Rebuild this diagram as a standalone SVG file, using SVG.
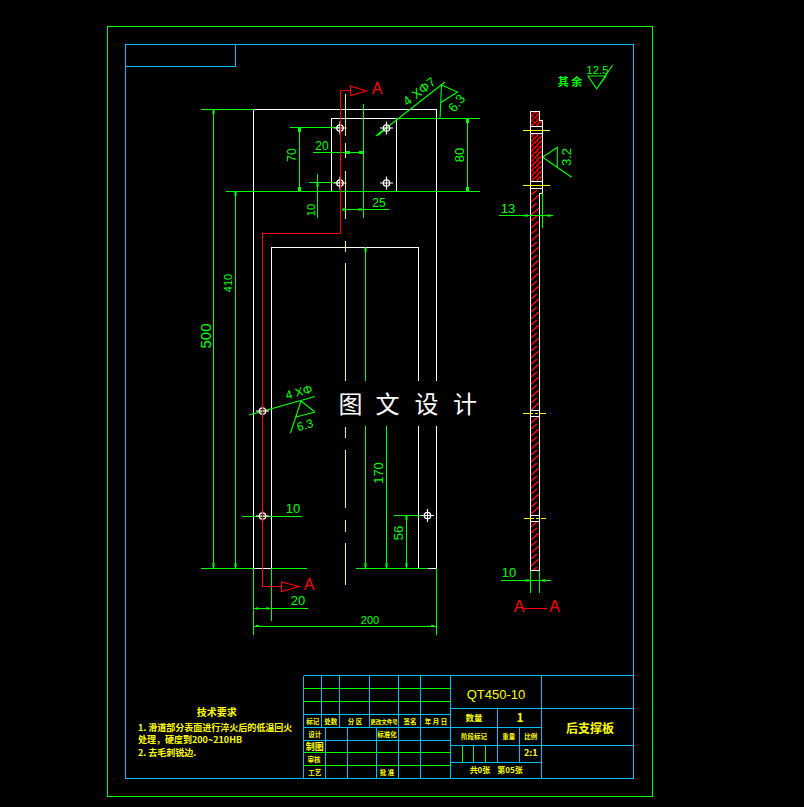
<svg xmlns="http://www.w3.org/2000/svg" width="804" height="807" viewBox="0 0 804 807">
<style>
text{font-family:"Liberation Sans","Noto Sans CJK SC",sans-serif}
.g{stroke:#00ff00;fill:none;stroke-width:1;shape-rendering:crispEdges}
.d{stroke:#00ff00;fill:none;stroke-width:1.100}
.w{stroke:#fff;fill:none;stroke-width:1;shape-rendering:crispEdges}
.b{stroke:#00bfff;fill:none;stroke-width:1;shape-rendering:crispEdges}
.r{stroke:#ff0000;fill:none;stroke-width:1;shape-rendering:crispEdges}
.ra{stroke:#ff0000;fill:none;stroke-width:1.100}
.y{stroke:#ffff00;fill:none;stroke-width:1;shape-rendering:crispEdges}
.gt{fill:#00ff00;font-size:13px;text-anchor:middle}
.rt{fill:#ff0000;font-size:16px;text-anchor:middle}
.yt{fill:#ffff00;font-size:6.500px;text-anchor:middle;font-family:"Noto Sans CJK SC",sans-serif;font-weight:700}
.tk{fill:#ffff00;font-size:9px;font-family:"Noto Sans CJK SC",sans-serif;font-weight:700}
.wm{fill:#fff;font-size:24px;text-anchor:middle;font-family:"Noto Sans CJK SC",sans-serif;font-weight:400}
</style>
<defs>
<pattern id="h1" width="5" height="5" patternUnits="userSpaceOnUse"><rect width="5" height="5" fill="#000"/><path d="M-1 4L4 -1M1 6L6 1" stroke="#ff0000" stroke-width="1.400"/></pattern>
<pattern id="h2" width="9" height="13" patternUnits="userSpaceOnUse"><rect width="9" height="13" fill="#000"/><path d="M0 7L8 0M0 13L6 8" stroke="#ff0000" stroke-width="1.500"/></pattern>
<g id="hole"><circle r="3.200" fill="none" stroke="#fff" stroke-width="1.300"/><path d="M-6.500 0H6.500M0 -6.500V6.500" stroke="#fff" stroke-width="1.200"/></g>
</defs>
<rect width="804" height="807" fill="#000"/>
<g id="frames">
<rect x="107.500" y="26.500" width="545" height="770" class="g"/>
<rect x="125.500" y="44.500" width="508" height="733.500" class="b"/>
<path d="M125.500 66.500H235.500V44.500" class="b"/>
</g>
<g id="front-view">
<path d="M271.500 568.500H253.500V109.500H436.500V568.500H428" class="w"/>
<path d="M271.500 568.500V247.500H418.500V568.500" class="w"/>
<rect x="331.500" y="118.500" width="64.500" height="73" class="w"/>
<path d="M345.500 94V136M345.500 143V158M345.500 171V219M345.500 241V252M345.500 263V381M345.500 427V438M345.500 450V508M345.500 520V532M345.500 543V585" class="y"/>
</g>
<g id="dimensions">
<path class="g" d="M201 109.500H253.500M213.500 109.500V568M226 191.500H480M235.500 191.500V568M396 118.500H480M467.500 118.500V191.500M290 127.500H340M299.500 127.500V191.500M313 152.500H363M363.500 104V218M309 182.500H340M317.500 174V218M342 209.500H389M201 568.500H253.500M271.500 568.500H307M356 568.500H428M365.500 247V568M386.500 426V568M242 516.500H302M394 515.500H427M406.500 515.500V568M253.500 568V635M436.500 568V635M271.500 568V621M253.500 608.500H308M253.500 626.500H436.500"/>
<path class="d" d="M376 136L445 82M441.500 85L457.500 92L440 103M441.500 85L440 119M249 415L315 396.500M301 401L315 412L296 417M301 401L290.500 433"/>
<path d="M212.500 110h2v4h-2zM234.500 192h2v4h-2zM466 119h3v4h-3zM466 187h3v4h-3zM298 128h3v4h-3zM298 187h3v4h-3zM316.500 187h2v-4h-2zM346 151h4v3h-4zM359 151h4v3h-4zM342 208.500h4v2h-4zM358 208.500h4v2h-4zM212.500 567h2v-4h-2zM234.500 567h2v-4h-2zM364.500 567h2v-4h-2zM385.500 567h2v-4h-2zM405.500 567h2v-4h-2zM405.500 516h2v4h-2zM364.500 248h2v4h-2zM256 607.500h3v2h-3zM266 607.500h3v2h-3zM256 625h3v2h-3zM431 625h3v2h-3z" fill="#00ff00"/>
<path d="M378 135L386 128" stroke="#00ff00" stroke-width="2"/>
</g>
<g id="holes">
<use href="#hole" x="340" y="128"/><use href="#hole" x="386.500" y="128"/><use href="#hole" x="340" y="183"/><use href="#hole" x="386.500" y="183"/>
<use href="#hole" x="262.500" y="411"/><use href="#hole" x="262.500" y="516"/><use href="#hole" x="427.500" y="515.500"/>
</g>
<g id="section-line">
<path d="M350 90.500H340.500V233.500H262.500V586.500H281" class="r" style="stroke-width:1.500"/>
<path d="M350.500 86V95.500L366.500 91ZM281.500 582V591.500L299 586.500Z" class="ra"/>
<text x="377" y="94" class="rt">A</text><text x="309" y="590" class="rt">A</text>
</g>
<g id="section-view">
<path d="M530.500 111.500H539.500V120.500H542.500V193.500H539.500V570.500H530.500Z" class="w"/>
<path d="M531 112H539V121H542V126H531ZM531 134H542V181H531Z" fill="url(#h1)"/>
<path d="M531 189H542V193H539V410H531ZM531 417H539V515H531ZM531 522H539V570H531Z" fill="url(#h2)"/>
<path d="M530.500 126.500H542.500M530.500 133.500H542.500M530.500 181.500H542.500M530.500 188.500H542.500M530.500 410.500H539.500M530.500 416.500H539.500M530.500 515.500H539.500M530.500 521.500H539.500" class="w"/>
<path d="M523 130.500H550M523 185.500H550" class="y"/>
<path d="M523 413.500H546M524 518.500H546" class="y" stroke-dasharray="10 2 3 2"/>
<path d="M499 215.500H552.700M542.500 193V227.700M501 580.500H551M530.500 570.500V592.700M539.500 570.500V592.700" class="g"/>
<path d="M542.700 157.300L557.300 147.300V167.300M542.700 157.300L571.700 177.300M588 76H606L596.700 88.700ZM596.700 88.700L612.700 65" class="d"/>
<path d="M524 608.500H547.300" class="r"/>
<path d="M524 214.500h4v2h-4zM547 214.500h4v2h-4zM525 579.500h4v2h-4zM542 579.500h4v2h-4z" fill="#00ff00"/>
</g>
<g id="watermark">
<rect x="315" y="381" width="165" height="45" fill="#000"/>
<text x="350.500" y="413" class="wm">图</text><text x="387.500" y="413" class="wm">文</text><text x="426.500" y="413" class="wm">设</text><text x="465" y="413" class="wm">计</text>
</g>
<g id="labels">
<text class="gt" transform="translate(211 336) rotate(-90)" style="font-size:15px">500</text>
<text class="gt" transform="translate(232 283) rotate(-90)" style="font-size:11px">410</text>
<text class="gt" transform="translate(296 155) rotate(-90)" style="font-size:12px">70</text>
<text class="gt" x="322" y="150" style="font-size:12px">20</text>
<text class="gt" transform="translate(315 210) rotate(-90)" style="font-size:11px">10</text>
<text class="gt" x="379" y="207" style="font-size:12px">25</text>
<text class="gt" transform="translate(464 155) rotate(-90)">80</text>
<text class="gt" transform="translate(383 473) rotate(-90)">170</text>
<text class="gt" transform="translate(403 533) rotate(-90)">56</text>
<text class="gt" x="293" y="513">10</text>
<text class="gt" x="298" y="605">20</text>
<text class="gt" x="370" y="624" style="font-size:11px">200</text>
<text class="gt" transform="translate(422 95) rotate(-38)">4 XΦ7</text>
<text class="gt" transform="translate(460 106) rotate(-50)">6.3</text>
<text class="gt" transform="translate(300 396) rotate(-15)" style="font-size:12px">4 XΦ</text>
<text class="gt" transform="translate(306 429) rotate(-15)" style="font-size:12px">6.3</text>
<text class="gt" x="508" y="213">13</text>
<text class="gt" x="509" y="577">10</text>
<text class="gt" transform="translate(571 157) rotate(-90)">3.2</text>
<text class="gt" x="597.500" y="73.500" style="font-size:11.500px">12.5</text>
<text x="570" y="86" style="fill:#00ff00;font-size:11px;text-anchor:middle;font-family:'Noto Sans CJK SC',sans-serif;font-weight:700">其 余</text>
<text class="rt" x="519" y="612">A</text><text class="rt" x="554.500" y="612">A</text>
</g>
<g id="title-block">
<path d="M303.500 675.500H633.500M303.500 714.500H450.500M303.500 727.500H541.500M303.500 740.500H450.500M303.500 778H633.500M450.500 708.500H633.500M450.500 745.500H633.500M450.500 762.500H541.500" class="b"/>
<path d="M303.500 675.500V778M321.500 675.500V727.500M339.500 675.500V727.500M369.500 675.500V727.500M398.500 675.500V778M420.500 675.500V778M450.500 675.500V778M325.500 727.500V778M347.500 727.500V778M376.500 727.500V778M541.500 675.500V778M497.500 708.500V762.500M519.500 727.500V762.500" class="b"/>
<path d="M303.500 688.500H450.500M303.500 701.500H450.500M303.500 752.500H450.500M303.500 765.500H450.500M462.500 745.500V762.500M473.500 745.500V762.500M485.500 745.500V762.500" class="g"/>
<text class="yt" x="312.700" y="723.500">标记</text><text class="yt" x="330.700" y="723.500">处数</text><text class="yt" x="355" y="723.500">分 区</text><text class="yt" x="384" y="723.500" style="font-size:5.500px">更改文件号</text><text class="yt" x="410" y="723.500">签名</text><text class="yt" x="436" y="723.500">年 月 日</text>
<text class="yt" x="314.700" y="736.500">设计</text><text class="yt" x="387" y="736.500">标准化</text>
<text class="yt" x="314.700" y="750" style="font-size:9px">制图</text><text class="yt" x="314" y="762">审核</text><text class="yt" x="314.700" y="775">工艺</text><text class="yt" x="387" y="775">批 准</text>
<text x="496" y="699" style="fill:#ffff00;font-size:13px;text-anchor:middle;font-family:'Liberation Sans',sans-serif">QT450-10</text>
<text class="yt" x="474" y="721" style="font-size:8.500px">数量</text><text class="yt" x="520" y="722" style="font-size:12px">1</text>
<text class="yt" x="474" y="739">阶段标记</text><text class="yt" x="508.700" y="739">重量</text><text class="yt" x="530.700" y="739">比例</text>
<text class="yt" x="530.700" y="756" style="font-size:9px">2:1</text>
<text class="yt" x="480" y="773" style="font-size:8px">共0张</text><text class="yt" x="510" y="773" style="font-size:8px">第05张</text>
<text class="yt" x="590" y="733" style="font-size:12px">后支撑板</text>
</g>
<g id="notes">
<text class="tk" x="216.700" y="716" text-anchor="middle" style="font-size:10px">技术要求</text>
<text class="tk" x="138" y="730.500">1. 滑道部分表面进行淬火后的低温回火</text>
<text class="tk" x="138" y="743">处理，硬度到200~210HB</text>
<text class="tk" x="138" y="756">2. 去毛刺锐边.</text>
</g>
</svg>
